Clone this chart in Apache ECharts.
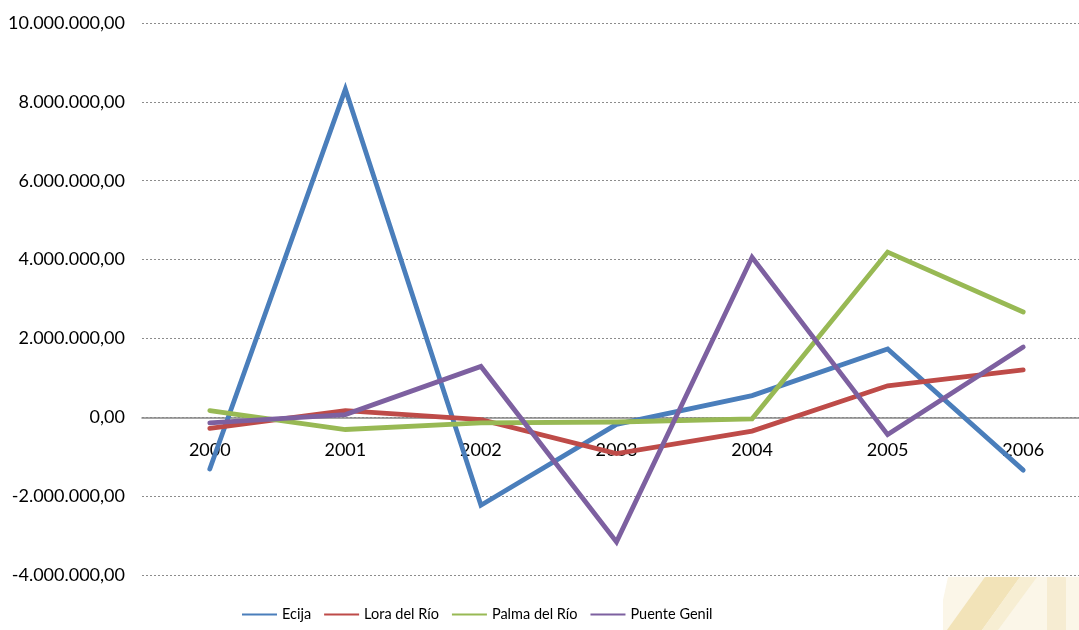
<!DOCTYPE html>
<html>
<head>
<meta charset="utf-8">
<script src="https://cdn.jsdelivr.net/npm/echarts@6/dist/echarts.min.js"></script>
<style>
html,body{margin:0;padding:0;background:#fff;overflow:hidden;width:1079px;height:630px;}
#chart{width:1091px;height:630px;}
</style>
</head>
<body>
<div id="chart"></div>
<script>
const categories = ['2000','2001','2002','2003','2004','2005','2006'];
const ecija = [-1310000, 8320000, -2230000, -180000, 550000, 1730000, -1340000];
const loraDelRio = [-280000, 170000, -60000, -920000, -350000, 800000, 1200000];
const palmaDelRio = [170000, -310000, -140000, -120000, -40000, 4190000, 2670000];
const puenteGenil = [-140000, 70000, 1290000, -3160000, 4060000, -440000, 1780000];
const seriesNames = ['Ecija', 'Lora del Río', 'Palma del Río', 'Puente Genil'];
const yTicks = { min: -4000000, max: 10000000, interval: 2000000 };

function fmt(v) {
  const neg = v < 0;
  const s = Math.abs(Math.round(v)).toString().replace(/\B(?=(\d{3})+(?!\d))/g, '.');
  return (neg ? '-' : '') + s + ',00';
}

const colors = ['#4a7ebb', '#be4b48', '#98b954', '#7d60a0'];
const dataArr = [ecija, loraDelRio, palmaDelRio, puenteGenil];
const font = 'Lato, "Open Sans", sans-serif';

const chart = echarts.init(document.getElementById('chart'), null, { renderer: 'canvas' });
chart.setOption({
  animation: false,
  backgroundColor: '#fff',
  graphic: [
    { type: 'polygon', z: -10, shape: { points: [[948,577],[1091,577],[1091,630],[943,630],[943,600]] }, style: { fill: '#fbf6e8' } },
    { type: 'polygon', z: -9, shape: { points: [[985,577],[1020,577],[982,630],[947,630]] }, style: { fill: '#f2e3b8' } },
    { type: 'polygon', z: -9, shape: { points: [[1020,577],[1037,577],[998,630],[982,630]] }, style: { fill: '#f7eed3' } },
    { type: 'polygon', z: -9, shape: { points: [[1047,577],[1066,577],[1066,630],[1047,630]] }, style: { fill: '#f6ecd2' } }
  ],
  grid: { left: 142, top: 23, right: 0, bottom: 55, containLabel: false },
  legend: {
    bottom: 3,
    left: 237,
    data: seriesNames,
    icon: 'rect',
    itemWidth: 35,
    itemHeight: 2,
    itemGap: 13,
    textStyle: { fontFamily: font, fontSize: 14.5, color: '#000' }
  },
  xAxis: {
    type: 'category',
    data: categories,
    boundaryGap: true,
    offset: -157,
    axisLine: { onZero: false, lineStyle: { color: '#868686', width: 1.5 } },
    axisTick: { show: false },
    axisLabel: { fontFamily: font, fontSize: 18, color: '#000', margin: 23 },
    splitLine: { show: false }
  },
  yAxis: {
    type: 'value',
    min: yTicks.min,
    max: yTicks.max,
    interval: yTicks.interval,
    axisLine: { show: false },
    axisTick: { show: false },
    axisLabel: { fontFamily: font, fontSize: 18, color: '#000', margin: 17, formatter: fmt },
    splitLine: { show: true, lineStyle: { color: '#8c8c8c', type: [2, 2], width: 1 } }
  },
  series: seriesNames.map((n, i) => ({
    name: n,
    type: 'line',
    data: dataArr[i],
    symbol: 'none',
    color: colors[i],
    lineStyle: { width: 4.8, color: colors[i], cap: 'round', join: 'miter' },
    z: 3 + i
  }))
});
</script>
</body>
</html>
